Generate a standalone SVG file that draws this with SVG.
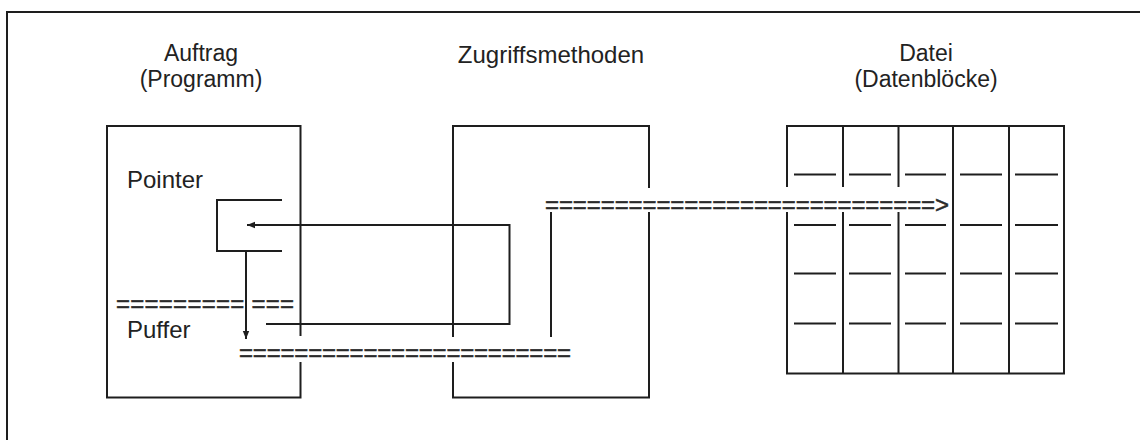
<svg xmlns="http://www.w3.org/2000/svg" width="1140" height="440" viewBox="0 0 1140 440">
  <style>
    .ln { fill: none; stroke: #1e1e1e; stroke-width: 2; stroke-linecap: butt; }
    .lbl { font-family: "Liberation Sans", Arial, sans-serif; font-size: 24px; fill: #222; }
    .hd { font-size: 23px; }
    .eq { font-family: "Liberation Sans", Arial, sans-serif; font-size: 24px; fill: #2a2a2a; stroke: #2a2a2a; stroke-width: 0.5; }
    .mid { text-anchor: middle; }
  </style>
  <defs>
    <marker id="tip" markerUnits="userSpaceOnUse" markerWidth="10" markerHeight="8" refX="8" refY="4" orient="auto">
      <path d="M0,0.8 L8,4 L0,7.2 Z" fill="#1e1e1e"/>
    </marker>
  </defs>

  <rect width="1140" height="440" fill="#ffffff"/>

  <!-- outer frame, open to the right and bottom -->
  <path class="ln" d="M7,441 V12 H1141"/>

  <!-- Auftrag (Programm) -->
  <g id="auftrag">
    <text class="lbl hd mid" x="201" y="61">Auftrag</text>
    <text class="lbl hd mid" x="201" y="87">(Programm)</text>
    <path class="ln" d="M300.5,336 V126 H107 V397.5 H300.5 V362"/>
    <text class="lbl" x="127" y="188">Pointer</text>
    <text class="lbl" x="127" y="338">Puffer</text>
    <!-- pointer cell -->
    <path class="ln" d="M282,200 H217 V251 H282"/>
  </g>

  <!-- Zugriffsmethoden -->
  <g id="zugriff">
    <text class="lbl mid" x="551" y="63">Zugriffsmethoden</text>
    <path class="ln" d="M453,337 V126 H649 V188 M649,212 V397.5 H453 V362"/>
    <path class="ln" d="M551,212 V337"/>
  </g>

  <!-- Datei (Datenbloecke) -->
  <g id="datei">
    <text class="lbl hd mid" x="926" y="61">Datei</text>
    <text class="lbl hd mid" x="926" y="87">(Datenblöcke)</text>
    <path class="ln" d="M787,187 V126 H1064 V373.5 H787 V212"/>
    <path class="ln" d="M843,126 V187 M843,212 V373.5"/>
    <path class="ln" d="M898.5,126 V187 M898.5,212 V373.5"/>
    <path class="ln" d="M953,126 V373.5"/>
    <path class="ln" d="M1009,126 V373.5"/>
    <g class="ln">
      <path d="M794,174.5 H836 M849,174.5 H891 M905,174.5 H946 M960,174.5 H1002 M1015,174.5 H1058"/>
      <path d="M794,225 H836 M849,225 H891 M905,225 H946 M960,225 H1002 M1015,225 H1058"/>
      <path d="M794,273.5 H836 M849,273.5 H891 M905,273.5 H946 M960,273.5 H1002 M1015,273.5 H1058"/>
      <path d="M794,323.5 H836 M849,323.5 H891 M905,323.5 H946 M960,323.5 H1002 M1015,323.5 H1058"/>
    </g>
  </g>

  <!-- connectors -->
  <g id="connectors">
    <!-- access method returns the buffer address into the pointer -->
    <path class="ln" d="M266,324 H509.5 V225 H247" marker-end="url(#tip)"/>
    <!-- pointer refers to the buffer -->
    <path class="ln" d="M246,251 V339" marker-end="url(#tip)"/>
    <!-- data transfer paths -->
    <text class="eq" x="116" y="312" textLength="178" lengthAdjust="spacing">========= ===</text>
    <text class="eq" x="239" y="361" textLength="332" lengthAdjust="spacing">========================</text>
    <text class="eq" x="545" y="213" textLength="404" lengthAdjust="spacing">============================&gt;</text>
  </g>
</svg>
